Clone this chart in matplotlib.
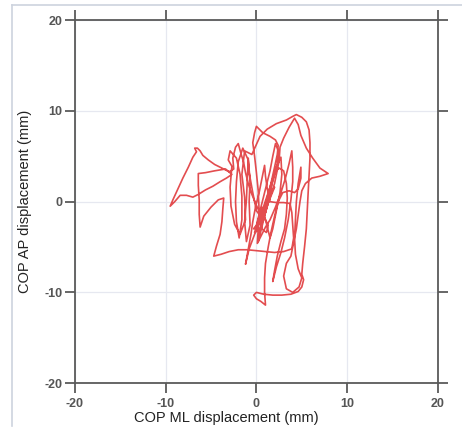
import matplotlib
matplotlib.use("Agg")
import matplotlib.pyplot as plt
from matplotlib.lines import Line2D
import numpy as np

# centre-of-pressure trajectory (ML, AP) in mm
cop_xy = [
    # central cluster, up into the upper-left loop
    (0.5, -1.5), (0.0, -0.4), (-0.5, 0.8), (-0.9, 2.0), (-1.2, 3.2), (-1.4, 4.3), (-1.7, 5.3),
    (-2.0, 6.4), (-2.3, 6.0), (-2.6, 4.8), (-2.5, 3.6),
    # out to the hook, down to the leftmost point
    (-3.0, 3.3), (-3.8, 3.7), (-4.6, 4.1), (-5.3, 4.6), (-5.9, 5.1), (-6.2, 5.6), (-6.5, 5.9),
    (-6.8, 5.9), (-6.6, 5.5), (-7.0, 4.9), (-7.5, 3.8), (-8.1, 2.6), (-8.7, 1.3), (-9.2, 0.2),
    (-9.5, -0.5),
    # lower edge of the left triangle
    (-9.0, 0.0), (-8.4, 0.7), (-7.7, 0.7), (-7.0, 0.5), (-6.4, 0.8), (-5.6, 1.3), (-4.8, 1.7),
    (-4.0, 2.2), (-3.3, 2.6), (-2.7, 3.0),
    (-3.4, 3.6), (-4.6, 3.4), (-5.6, 3.2), (-6.4, 3.1), (-6.4, 1.8), (-6.3, 0.2), (-6.3, -1.4),
    (-6.2, -2.8), (-5.8, -1.6), (-5.0, -0.6), (-4.2, 0.2), (-3.6, 0.4),
    # left side down to the lower-left corner
    (-3.7, -0.8), (-3.8, -2.2), (-4.0, -3.6), (-4.4, -4.9), (-4.7, -6.0),
    (-3.9, -5.8), (-3.0, -5.5), (-2.0, -5.3), (-1.0, -5.3), (0.0, -5.4), (1.0, -5.5), (2.0, -5.6),
    (3.0, -5.5), (3.9, -5.2), (4.1, -4.0), (4.0, -2.6), (3.9, -1.2), (3.7, -0.2), (3.0, -0.1),
    (2.2, -0.1), (1.5, 0.0), (1.2, 1.4), (1.0, 2.8), (0.9, 4.0),
    (0.6, 2.5), (0.3, 1.0), (-0.1, -0.6), (-0.4, -2.2), (-0.6, -3.6), (-1.2, -6.9),
    (-0.8, -5.2), (-0.2, -3.6), (0.4, -2.2), (0.9, -0.8), (1.4, 0.8), (1.9, 2.6), (2.3, 4.2),
    (2.4, 5.6), (2.1, 6.4),
    (1.8, 5.0), (1.5, 3.4), (1.1, 1.8), (0.7, 0.2), (0.3, -1.4), (0.0, -2.6), (-0.3, -3.0),
    (0.3, -2.4), (0.9, -1.8), (1.3, -2.6), (1.1, -3.4), (0.6, -3.0), (0.4, -1.8),
    (0.9, -0.2), (1.5, 1.6), (2.0, 3.2), (2.5, 3.7), (3.0, 3.4), (3.3, 2.0), (3.4, 0.4),
    (3.3, -1.4), (3.1, -3.0), (2.7, -4.4), (2.3, -6.0), (2.0, -7.6), (1.8, -8.8),
    (2.2, -7.2), (2.7, -5.6), (3.1, -4.0), (3.5, -2.0), (3.8, 0.2), (4.0, 2.2), (4.0, 3.8),
    (3.9, 5.6),
    (3.6, 4.2), (3.2, 2.6), (2.7, 1.0), (2.1, -0.6), (1.5, -2.0), (1.0, -2.8), (0.5, -3.8),
    (0.1, -4.6), (0.2, -3.0), (0.3, -1.0), (0.2, 1.2), (0.0, 3.2), (-0.2, 5.0), (-0.4, 6.5),
    (-0.2, 7.6), (0.0, 8.3),
    (0.7, 7.6), (1.5, 7.2), (2.1, 6.8), (2.4, 6.2), (2.3, 5.2), (2.0, 3.8), (1.6, 2.0),
    (1.2, 0.5), (0.8, -1.0), (0.5, -2.5), (0.2, -4.4),
    # extra slanted strokes through the dense centre
    (0.8, -2.0), (1.4, 0.6), (1.8, 2.4), (2.2, 3.8), (2.7, 4.9), (2.8, 3.0), (2.6, 1.0),
    (2.2, -1.0), (1.8, -3.0), (1.5, -4.0), (1.0, -2.0), (0.6, -0.6), (0.2, -2.0), (-0.2, -3.4),
    (0.4, -3.0), (1.0, -1.2), (1.6, 1.0), (2.0, 1.6), (1.2, -0.4), (0.6, -1.8), (0.0, -1.0),
    # vertical strokes in the left half of the cluster
    (-0.4, 1.0), (-0.8, 3.2), (-0.9, 4.8), (-1.0, 2.6), (-1.1, 0.2), (-1.3, -2.2), (-1.1, -4.4),
    (-0.7, -2.6), (-0.8, 0.0), (-0.7, 2.4), (-0.9, 4.6), (-1.5, 5.9), (-2.0, 4.4), (-2.2, 2.2),
    (-2.3, 0.0), (-2.2, -2.2), (-1.9, -4.0), (-1.6, -2.0), (-1.6, 0.6), (-1.8, 3.0), (-2.2, 4.8),
    (-2.9, 5.6), (-3.1, 4.6), (-2.7, 3.9),
    (-2.9, 1.6), (-2.8, -0.5), (-2.4, -2.5), (-1.8, -3.6), (-1.2, -2.0), (-1.3, 0.5), (-1.6, 3.0),
    (-1.3, 5.6), (-0.5, 5.2),
    # big outer arc over the top and down the right edge
    (0.4, 7.2), (1.2, 8.0), (2.2, 8.6), (3.3, 9.0), (4.0, 9.4), (4.4, 9.6), (5.0, 9.3),
    (5.5, 8.8), (5.8, 7.9), (5.9, 6.5), (5.9, 4.8), (5.8, 3.0), (5.7, 1.0), (5.6, -1.0),
    (5.5, -3.0), (5.3, -5.0), (5.1, -6.8), (5.0, -8.0), (5.2, -8.6), (5.0, -9.4), (4.6, -9.9),
    (3.8, -10.2), (2.8, -10.3), (1.8, -10.3), (0.8, -10.2), (0.0, -10.0), (-0.3, -10.3),
    (0.0, -10.7), (0.5, -11.0), (1.0, -11.4),
    # up from the bottom tip
    (0.9, -10.0), (0.9, -8.4), (1.0, -6.8), (1.3, -5.0), (1.6, -3.4), (2.0, -1.6), (2.4, 0.0),
    (2.9, 1.0), (3.6, 1.2), (4.2, 1.0), (4.6, 1.4), (4.9, 2.6), (4.9, 3.8),
    (4.6, 2.0), (4.4, 0.0), (4.3, -2.0), (4.2, -4.0), (4.3, -5.8), (4.6, -7.4), (5.0, -8.4),
    (4.7, -9.4), (4.0, -10.0), (3.3, -9.6), (3.0, -8.2), (3.3, -6.8), (3.8, -6.0),
    # right spike
    (4.4, -3.0), (4.8, 0.0), (5.0, 1.2), (5.4, 2.0), (6.1, 2.6), (7.0, 2.8), (7.9, 3.1),
    (7.0, 3.7), (6.2, 4.8), (5.5, 5.9), (4.9, 7.3), (4.6, 8.5), (4.2, 9.2), (3.6, 8.2),
    (3.0, 7.0), (2.6, 6.0), (2.5, 4.5), (2.0, 2.0), (1.4, 0.2), (1.0, -1.2),
]

ticks = [-20, -10, 0, 10, 20]
x_label = "COP ML displacement (mm)"
y_label = "COP AP displacement (mm)"

ml = np.array([p[0] for p in cop_xy])
ap = np.array([p[1] for p in cop_xy])

plt.rcParams["font.family"] = ["Liberation Sans", "DejaVu Sans"]
plt.rcParams["axes.unicode_minus"] = False

fig = plt.figure(figsize=(4.62, 4.30), dpi=100)
ax = fig.add_axes([0.162, 0.109, 0.786, 0.844])

ax.plot(ml, ap, color="#e0393c", linewidth=1.2, alpha=0.9)

ax.set_xlim(-20, 20)
ax.set_ylim(-20, 20)
ax.set_xticks(ticks)
ax.set_yticks(ticks)
ax.grid(True, color="#e6e8f0", linewidth=0.9)
ax.set_axisbelow(True)

for s in ax.spines.values():
    s.set_color("#5a5a5a")
    s.set_linewidth(1.3)

ax.tick_params(direction="out", length=7, width=1.3, color="#5a5a5a",
               top=True, right=True, labelsize=9, labelcolor="#555555")
ax.tick_params(axis="x", pad=4)
ax.tick_params(axis="y", pad=2)
for lab in ax.get_xticklabels() + ax.get_yticklabels():
    lab.set_fontweight("bold")

ax.set_xlabel(x_label, fontsize=10.5, color="#222222")
ax.xaxis.set_label_coords(0.416, -0.076)
ax.set_ylabel(y_label, fontsize=10.5, color="#222222", labelpad=9)

# faint frame around the figure panel
fig.add_artist(Line2D([0.026, 0.026], [0.01, 0.988], color="#cdd3de", linewidth=1.2))
fig.add_artist(Line2D([0.026, 1.0], [0.988, 0.988], color="#cdd3de", linewidth=1.2))

fig.savefig("out.png", dpi=100)
